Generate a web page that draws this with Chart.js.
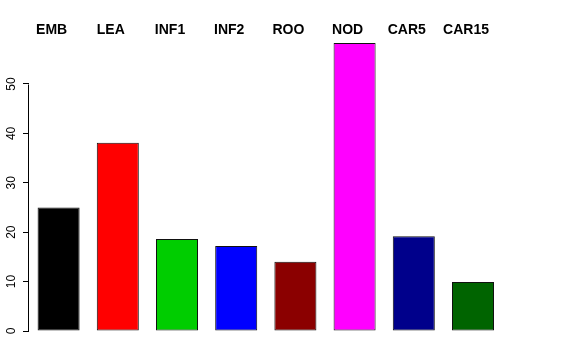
<!DOCTYPE html>
<html><head><meta charset="utf-8">
<script src="https://cdn.jsdelivr.net/npm/chart.js@4/dist/chart.umd.min.js"></script>
<style>html,body{margin:0;padding:0;background:#fff}#wrap{width:576px;height:360px}</style>
</head><body><div id="wrap"><canvas id="c" width="576" height="360"></canvas></div>
<script>
const categories = ["EMB","LEA","INF1","INF2","ROO","NOD","CAR5","CAR15"];
const values = [25, 38.1, 18.6, 17.2, 14.0, 58.3, 19.2, 9.9];
const barColors = ["#000000","#FF0000","#00CD00","#0000FF","#8B0000","#FF00FF","#00008B","#006400"];
const yTicks = [0, 10, 20, 30, 40, 50];

const axisLine = {
  id: 'axisLine',
  afterDraw(chart) {
    const y = chart.scales.y, ctx = chart.ctx;
    const x = chart.chartArea.left - 0.5;
    ctx.save();
    ctx.strokeStyle = '#000'; ctx.lineWidth = 1;
    ctx.beginPath();
    ctx.moveTo(x, Math.round(y.getPixelForValue(yTicks[0])) + 0.5);
    ctx.lineTo(x, Math.round(y.getPixelForValue(yTicks[yTicks.length-1])) + 0.5);
    ctx.stroke();
    ctx.restore();
  }
};

new Chart(document.getElementById('c'), {
  type: 'bar',
  data: { labels: categories, datasets: [{ data: values, backgroundColor: barColors, borderColor: '#111', borderWidth: 1, borderSkipped: false, barPercentage: 0.71, categoryPercentage: 1 }] },
  options: {
    responsive: false, animation: false,
    layout: { padding: { left: 0, right: 73.4, top: 0, bottom: 29 } },
    plugins: { legend: { display: false }, tooltip: { enabled: false } },
    scales: {
      x: {
        position: 'top',
        grid: { display: false, drawTicks: false },
        border: { display: false },
        afterFit(s) { s.height = 40; },
        ticks: { autoSkip: false, maxRotation: 0, minRotation: 0, padding: 1, labelOffset: -7, color: '#000', font: { family: 'Liberation Sans', size: 14, weight: 'bold' } }
      },
      y: {
        min: 0, max: 58.9,
        afterFit(s) { s.width = 29; },
        afterBuildTicks(s) { s.ticks = yTicks.map(v => ({ value: v })); },
        grid: { display: true, drawOnChartArea: false, drawTicks: true, tickLength: 6, color: '#000' },
        border: { display: false },
        ticks: { minRotation: 90, maxRotation: 90, crossAlign: 'center', padding: 5, color: '#000', font: { family: 'Liberation Sans', size: 12 } }
      }
    }
  },
  plugins: [axisLine]
});
</script></body></html>
